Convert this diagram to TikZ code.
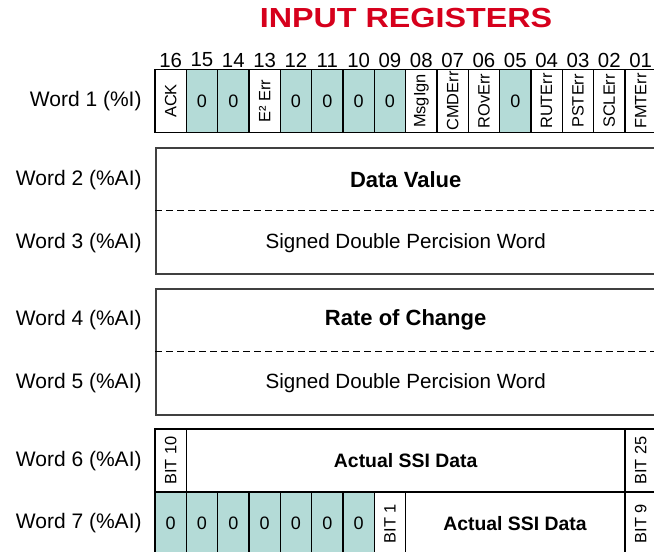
\documentclass[tikz,border=0pt]{standalone}
\usepackage{fontspec}
\setmainfont{Liberation Sans}
\definecolor{regteal}{RGB}{180,219,215}
\definecolor{regred}{RGB}{214,0,28}
\tikzset{
  cell/.style={draw=black, line width=0.6pt, inner sep=0pt,
    minimum width=15.667pt, minimum height=31.5pt},
  zerocell/.style={cell, fill=regteal, font=\fontsize{9}{11}\selectfont},
  flagcell/.style={draw=black, line width=0.6pt, inner sep=0pt, rotate=90,
    minimum width=31.5pt, minimum height=15.667pt, font=\fontsize{8.2}{10}\selectfont},
  wordlabel/.style={anchor=east, inner sep=0pt, font=\fontsize{10.5}{12}\selectfont},
  bitnum/.style={inner sep=0pt, font=\fontsize{10.2}{12}\selectfont},
  regbox/.style={draw=black!75, line width=0.8pt, inner sep=0pt, anchor=north west,
    minimum width=250.67pt, minimum height=63pt},
  split/.style={line width=0.6pt, dash pattern=on 3.5pt off 2pt},
  bigbold/.style={font=\fontsize{11}{13}\selectfont\bfseries},
  plaintext/.style={font=\fontsize{10.3}{12}\selectfont}
}
\begin{document}
\begin{tikzpicture}[x=0.5pt,y=-0.5pt]
  \useasboundingbox (0,0) rectangle (654,552);
  \clip (0,0) rectangle (654,552);
  \node[text=regred, font=\fontsize{13.8}{16}\selectfont\bfseries] (title) at (406,18)
    {\scalebox{1.17}[1]{INPUT REGISTERS}};
  \draw
    (170.67,60) node[bitnum] (n16){16}
    (202.00,60) node[bitnum] (n15){15}
    (233.33,60) node[bitnum] (n14){14}
    (264.67,60) node[bitnum] (n13){13}
    (296.00,60) node[bitnum] (n12){12}
    (327.33,60) node[bitnum] (n11){11}
    (358.67,60) node[bitnum] (n10){10}
    (390.00,60) node[bitnum] (n09){09}
    (421.33,60) node[bitnum] (n08){08}
    (452.67,60) node[bitnum] (n07){07}
    (484.00,60) node[bitnum] (n06){06}
    (515.33,60) node[bitnum] (n05){05}
    (546.67,60) node[bitnum] (n04){04}
    (578.00,60) node[bitnum] (n03){03}
    (609.33,60) node[bitnum] (n02){02}
    (640.67,60) node[bitnum] (n01){01};
  \node[wordlabel] (w1) at (142,101) {Word 1 (\%I)};
  \node[wordlabel] (w2) at (142,180) {Word 2 (\%AI)};
  \node[wordlabel] (w3) at (142,243) {Word 3 (\%AI)};
  \node[wordlabel] (w4) at (142,320) {Word 4 (\%AI)};
  \node[wordlabel] (w5) at (142,383) {Word 5 (\%AI)};
  \node[wordlabel] (w6) at (142,461) {Word 6 (\%AI)};
  \node[wordlabel] (w7) at (142,523) {Word 7 (\%AI)};
  \node[flagcell] (ack) at (170.67,101) {ACK};
  \node[zerocell] (z15) at (202.00,101) {0};
  \node[zerocell] (z14) at (233.33,101) {0};
  \node[flagcell] (eerr) at (264.67,101) {E² Err};
  \node[zerocell] (z12) at (296.00,101) {0};
  \node[zerocell] (z11) at (327.33,101) {0};
  \node[zerocell] (z10) at (358.67,101) {0};
  \node[zerocell] (z09) at (390.00,101) {0};
  \node[flagcell] (msgign) at (421.33,101) {MsgIgn};
  \node[flagcell] (cmderr) at (452.67,101) {CMDErr};
  \node[flagcell] (roverr) at (484.00,101) {ROvErr};
  \node[zerocell] (z05) at (515.33,101) {0};
  \node[flagcell] (ruterr) at (546.67,101) {RUTErr};
  \node[flagcell] (psterr) at (578.00,101) {PSTErr};
  \node[flagcell] (sclerr) at (609.33,101) {SCLErr};
  \node[flagcell] (fmterr) at (640.67,101) {FMTErr};
  \node[regbox] (w23) at (155,147) {};
  \draw[split] (w23.west) -- (w23.east);
  \node[bigbold] (dataval) at (405.67,180) {Data Value};
  \node[plaintext] (sdpw1) at (405.67,243) {Signed Double Percision Word};
  \node[regbox] (w45) at (155,288) {};
  \draw[split] (w45.west) -- (w45.east);
  \node[bigbold] (rate) at (405.67,320) {Rate of Change};
  \node[plaintext] (sdpw2) at (405.67,383) {Signed Double Percision Word};
  \node[flagcell] (bit10) at (170.67,460.5) {BIT 10};
  \node[cell, minimum width=219.33pt, font=\fontsize{9.7}{12}\selectfont\bfseries] (ssi1)
    at (405.67,460.5) {Actual SSI Data};
  \node[flagcell] (bit25) at (640.67,460.5) {BIT 25};
  \node[zerocell] (y0) at (170.67,523.5) {0};
  \node[zerocell] (y1) at (202.00,523.5) {0};
  \node[zerocell] (y2) at (233.33,523.5) {0};
  \node[zerocell] (y3) at (264.67,523.5) {0};
  \node[zerocell] (y4) at (296.00,523.5) {0};
  \node[zerocell] (y5) at (327.33,523.5) {0};
  \node[zerocell] (y6) at (358.67,523.5) {0};
  \node[flagcell] (bit1) at (390.00,523.5) {BIT 1};
  \node[cell, minimum width=109.67pt, font=\fontsize{9.7}{12}\selectfont\bfseries] (ssi2)
    at (515.00,523.5) {Actual SSI Data};
  \node[flagcell] (bit9) at (640.67,523.5) {BIT 9};
\end{tikzpicture}
\end{document}
